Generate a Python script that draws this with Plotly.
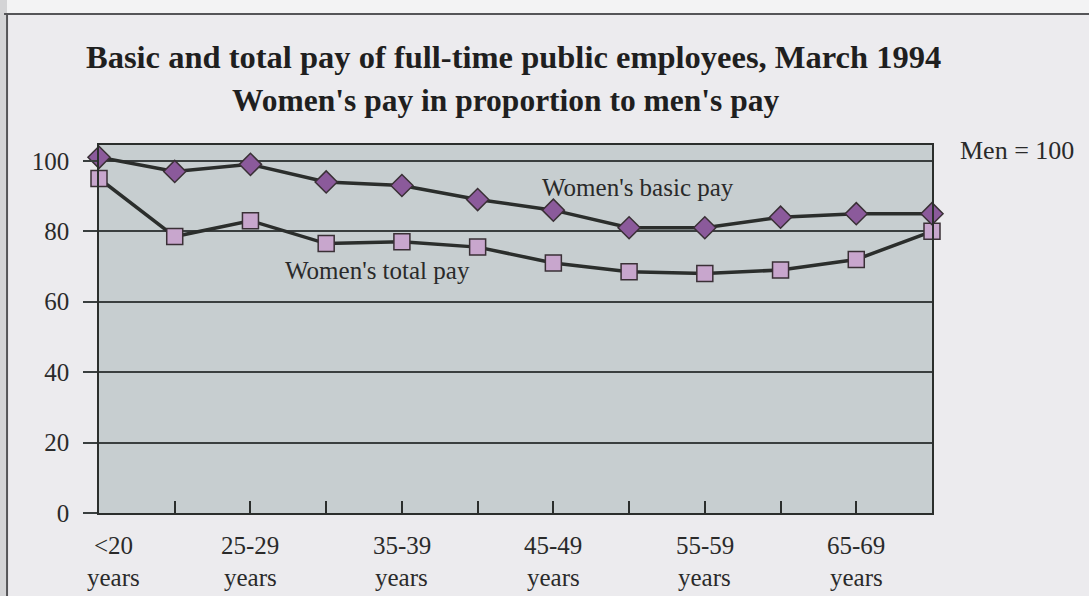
import plotly.graph_objects as go

# Age groups (12 points; every other one is labelled on the axis)
age_groups = ["<20", "20-24", "25-29", "30-34", "35-39", "40-44",
              "45-49", "50-54", "55-59", "60-64", "65-69", "70+"]
labelled_groups = ["<20", "25-29", "35-39", "45-49", "55-59", "65-69"]

# Women's pay as a share of men's pay (men = 100)
basic_pay = [101, 97, 99, 94, 93, 89, 86, 81, 81, 84, 85, 85]
total_pay = [95, 78.5, 83, 76.5, 77, 75.5, 71, 68.5, 68, 69, 72, 80]

y_ticks = [0, 20, 40, 60, 80, 100]

FONT = "Liberation Serif"
INK = "#2b2e2c"
PAGE = "#ecebee"
PANEL = "#c7ced0"
TEXT = "#2a2a2a"
TXT_SIZE = 25

x_idx = list(range(len(age_groups)))

fig = go.Figure()

fig.add_trace(go.Scatter(
    x=x_idx, y=total_pay, mode="lines+markers", name="Women's total pay",
    line=dict(color=INK, width=3.5),
    marker=dict(symbol="square", size=16, color="#c8a6cd",
                line=dict(color="#3a3036", width=1.5)),
    cliponaxis=False, showlegend=False,
))
fig.add_trace(go.Scatter(
    x=x_idx, y=basic_pay, mode="lines+markers", name="Women's basic pay",
    line=dict(color=INK, width=3.5),
    marker=dict(symbol="diamond", size=17, color="#8b5a9b",
                line=dict(color="#3a3036", width=1.5)),
    cliponaxis=False, showlegend=False,
))

annotations = [
    dict(text="<b>Basic and total pay of full-time public employees, March 1994</b>",
         xref="paper", yref="paper", x=0.4975, y=1.239, xanchor="center", yanchor="middle",
         showarrow=False, font=dict(family=FONT, size=32.5, color="#1f1f1f")),
    dict(text="<b>Women's pay in proportion to men's pay</b>",
         xref="paper", yref="paper", x=0.489, y=1.122, xanchor="center", yanchor="middle",
         showarrow=False, font=dict(family=FONT, size=31.5, color="#1f1f1f")),
    dict(text="Men = 100", xref="paper", yref="paper", x=1.031, y=0.986,
         xanchor="left", yanchor="middle", showarrow=False,
         font=dict(family=FONT, size=TXT_SIZE + 1, color=TEXT)),
    dict(text="Women's basic pay", xref="x", yref="y", x=5.83, y=92.5,
         xanchor="left", yanchor="middle", showarrow=False,
         font=dict(family=FONT, size=TXT_SIZE, color=TEXT)),
    dict(text="Women's total pay", xref="x", yref="y", x=2.43, y=68.9,
         xanchor="left", yanchor="middle", showarrow=False,
         font=dict(family=FONT, size=TXT_SIZE, color=TEXT)),
]

# Two-line category labels under every other tick
for name in labelled_groups:
    i = age_groups.index(name)
    shift = 14 if i == 0 else 0
    annotations.append(dict(text=name, xref="x", yref="paper", x=i, y=-0.087,
                            xshift=shift, xanchor="center", yanchor="middle",
                            showarrow=False, font=dict(family=FONT, size=TXT_SIZE, color=TEXT)))
    annotations.append(dict(text="years", xref="x", yref="paper", x=i, y=-0.174,
                            xshift=shift, xanchor="center", yanchor="middle",
                            showarrow=False, font=dict(family=FONT, size=TXT_SIZE, color=TEXT)))

shapes = [
    # page edge strip and frame lines
    dict(type="rect", xref="paper", yref="paper", x0=-0.2, x1=-0.1104, y0=-0.3, y1=1.45,
         fillcolor="#d4d4d6", line=dict(width=0), layer="below"),
    dict(type="line", xref="paper", yref="paper", x0=-0.1104, x1=-0.1104, y0=-0.3, y1=1.356,
         line=dict(color="#555558", width=2)),
    dict(type="line", xref="paper", yref="paper", x0=-0.114, x1=1.3, y0=1.356, y1=1.356,
         line=dict(color="#555558", width=2)),
    dict(type="rect", xref="paper", yref="paper", x0=-0.1104, x1=1.3, y0=1.356, y1=1.45,
         fillcolor="#f3f3f4", line=dict(width=0), layer="below"),
]

fig.update_layout(
    width=1089, height=596, autosize=False,
    margin=dict(l=99, r=157, t=145, b=83),
    paper_bgcolor=PAGE, plot_bgcolor=PANEL,
    annotations=annotations, shapes=shapes,
    font=dict(family=FONT, size=TXT_SIZE, color=TEXT),
)

fig.update_xaxes(
    range=[0, len(age_groups) - 1], tickvals=x_idx, showticklabels=False,
    ticks="inside", ticklen=12, tickwidth=1.5, tickcolor=INK,
    showgrid=False, zeroline=False,
    showline=True, linecolor=INK, linewidth=1.5, mirror=True,
)
fig.update_yaxes(
    range=[0, 104.5], tickvals=y_ticks, ticktext=[str(v) for v in y_ticks],
    ticks="outside", ticklen=14, tickwidth=1.5, tickcolor="#3a3f3f",
    ticklabelstandoff=9,
    tickfont=dict(family=FONT, size=TXT_SIZE, color=TEXT),
    showgrid=True, gridcolor="#3a3f3f", gridwidth=1.5,
    zeroline=False,
    showline=True, linecolor=INK, linewidth=1.5, mirror=True,
)

fig.write_html("out.html")
